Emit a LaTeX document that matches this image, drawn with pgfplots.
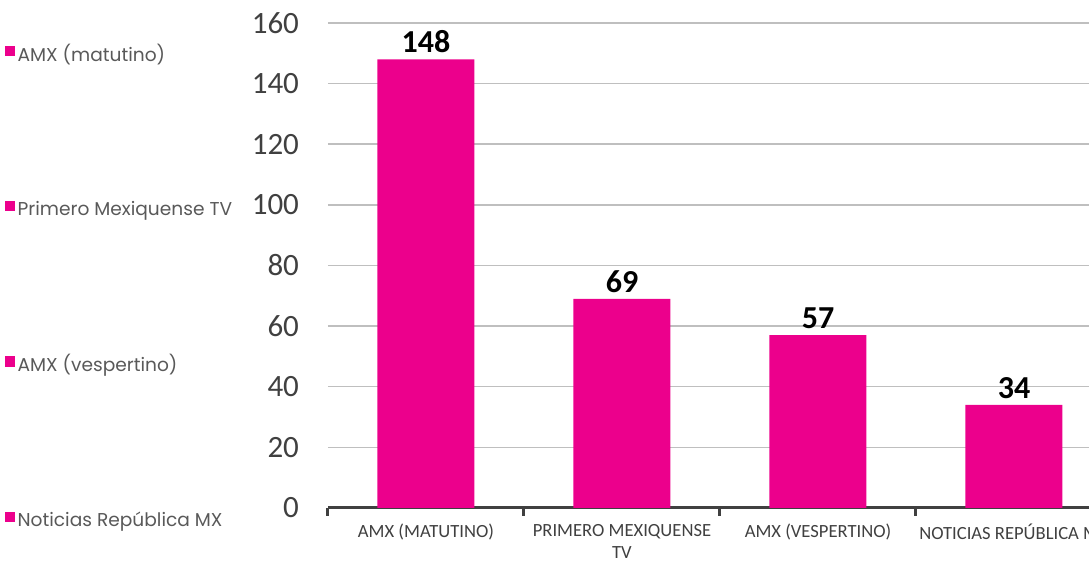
\documentclass[border=0pt]{standalone}
\usepackage{pgfplots}
\pgfplotsset{compat=1.18}
\usepackage{fontspec}
\setmainfont{Carlito}
\newfontfamily\gothic{Poppins}
\definecolor{barpink}{HTML}{EC008C}
\definecolor{txtgray}{HTML}{404040}
\definecolor{leggray}{HTML}{595959}
\definecolor{gridgray}{HTML}{BFBFBF}
\definecolor{axgray}{HTML}{404040}
\begin{document}
\begin{tikzpicture}
\useasboundingbox (0,0) rectangle (544.5pt,280.5pt);
\clip (0,0) rectangle (544.5pt,280.5pt);
\begin{axis}[
  at={(164pt,26.5pt)}, anchor=south west,
  scale only axis, width=392pt, height=242.5pt,
  xmin=-0.5, xmax=3.5, ymin=0, ymax=160,
  axis x line*=bottom, axis y line*=left,
  y axis line style={draw=none},
  x axis line style={draw=axgray, line width=1.5pt, -},
  xtick={0,1,2,3},
  xticklabels={AMX (MATUTINO), {PRIMERO MEXIQUENSE\\TV}, AMX (VESPERTINO), NOTICIAS REPÚBLICA MX},
  xticklabel style={font=\fontsize{9.3}{11}\selectfont, text=txtgray, align=center, yshift=-4.5pt},
  minor xtick={-0.5,0.5,1.5,2.5,3.5},
  tick align=outside,
  major tick length=0pt,
  minor tick length=4pt,
  every minor tick/.style={draw=axgray, line width=1.5pt},
  ytick={0,20,...,160},
  ytick style={draw=none},
  yticklabel style={font=\fontsize{15.5}{18}\selectfont, text=txtgray, xshift=-11pt},
  /pgf/number format/assume math mode=true,
  ymajorgrids, major grid style={draw=gridgray, line width=0.75pt},
  legend image code/.code={\fill[barpink] (0pt,-0.6pt) rectangle (4.6pt,4pt);},
  legend style={at={(-0.413,0.966)}, anchor=north west, draw=none, fill=none,
    font=\gothic\fontsize{9.3}{11}\selectfont, text=leggray, inner sep=0pt,
    row sep=64.3pt, nodes={inner xsep=1.5pt}},
  legend cell align=left,
  clip=false,
]
\addplot[ybar, bar width=48.5pt, bar shift=0pt, fill=barpink, draw=none, forget plot,
  nodes near coords,
  every node near coord/.style={font=\bfseries\fontsize{16}{19}\selectfont, text=black, anchor=south, inner sep=3pt}]
  coordinates {(0,148) (1,69) (2,57) (3,34)};
\addlegendimage{}
\addlegendimage{}
\addlegendimage{}
\addlegendimage{}
\legend{AMX (matutino), Primero Mexiquense TV, AMX (vespertino), Noticias República MX}
\end{axis}
\end{tikzpicture}
\end{document}
